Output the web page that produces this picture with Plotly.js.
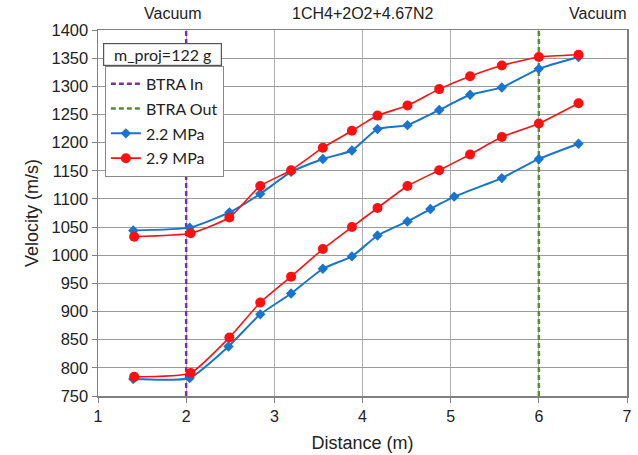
<!DOCTYPE html>
<html>
<head>
<meta charset="utf-8">
<script src="https://cdn.plot.ly/plotly-3.0.1.min.js"></script>
<style>html,body{margin:0;padding:0;background:#fff;}#chart{width:638px;height:455px;}</style>
</head>
<body>
<div id="chart"></div>
<script>
// 2.2 MPa, upper branch
const x22Upper = [1.40, 2.04, 2.49, 2.84, 3.19, 3.55, 3.88, 4.17, 4.51, 4.87, 5.22, 5.58, 6.00, 6.45];
const v22Upper = [1044, 1049, 1076, 1109, 1148, 1171, 1186, 1224, 1231, 1258, 1285, 1298, 1331, 1352];
// 2.2 MPa, lower branch
const x22Lower = [1.40, 2.04, 2.48, 2.84, 3.19, 3.55, 3.88, 4.17, 4.51, 4.77, 5.04, 5.58, 6.00, 6.45];
const v22Lower = [780, 782, 838, 895, 932, 976, 998, 1035, 1060, 1082, 1104, 1137, 1171, 1198];
// 2.9 MPa, upper branch
const x29Upper = [1.41, 2.05, 2.49, 2.84, 3.19, 3.55, 3.88, 4.17, 4.51, 4.87, 5.22, 5.58, 6.00, 6.45];
const v29Upper = [1033, 1039, 1067, 1123, 1151, 1191, 1221, 1248, 1266, 1295, 1318, 1337, 1352, 1356];
// 2.9 MPa, lower branch
const x29Lower = [1.41, 2.05, 2.49, 2.84, 3.19, 3.55, 3.88, 4.17, 4.51, 4.87, 5.22, 5.58, 6.00, 6.45];
const v29Lower = [784, 791, 854, 916, 962, 1011, 1050, 1084, 1123, 1151, 1179, 1210, 1234, 1270];
// BTRA markers
const btraInX = [2, 2];
const btraOutX = [6, 6];
const btraY = [750, 1400];
const xTicks = [1, 2, 3, 4, 5, 6, 7];
const yTicks = [750, 800, 850, 900, 950, 1000, 1050, 1100, 1150, 1200, 1250, 1300, 1350, 1400];

const blue = '#1874cd';
const red = '#ff1010';
const traces = [
  {x: btraInX, y: btraY, mode: 'lines', name: 'BTRA In',
   line: {color: '#7a2fb0', width: 2.5, dash: '5px,3px'}},
  {x: btraOutX, y: btraY, mode: 'lines', name: 'BTRA Out',
   line: {color: '#5b8c34', width: 2.5, dash: '5px,3px'}},
  {x: x22Upper, y: v22Upper, mode: 'lines+markers', name: '2.2 MPa', legendgroup: 'a',
   line: {color: blue, width: 2, shape: 'spline', smoothing: 0.5},
   marker: {symbol: 'diamond', size: 8, color: blue}},
  {x: x22Lower, y: v22Lower, mode: 'lines+markers', name: '2.2 MPa', legendgroup: 'a', showlegend: false,
   line: {color: blue, width: 2, shape: 'spline', smoothing: 0.5},
   marker: {symbol: 'diamond', size: 8, color: blue}},
  {x: x29Upper, y: v29Upper, mode: 'lines+markers', name: '2.9 MPa', legendgroup: 'b',
   line: {color: red, width: 1.6, shape: 'spline', smoothing: 0.5},
   marker: {symbol: 'circle', size: 10, color: red}},
  {x: x29Lower, y: v29Lower, mode: 'lines+markers', name: '2.9 MPa', legendgroup: 'b', showlegend: false,
   line: {color: red, width: 1.6, shape: 'spline', smoothing: 0.5},
   marker: {symbol: 'circle', size: 10, color: red}}
];

const layout = {
  width: 638, height: 455,
  margin: {l: 98, r: 11, t: 30, b: 59},
  paper_bgcolor: '#fff', plot_bgcolor: '#fff',
  font: {family: 'Liberation Sans, Arial, sans-serif', size: 16, color: '#222'},
  showlegend: true,
  legend: {x: 0.013, y: 0.902, xanchor: 'left', yanchor: 'top',
    bordercolor: '#888', borderwidth: 1, bgcolor: '#fff',
    font: {family: 'Lato, sans-serif', size: 16, color: '#222'},
    tracegroupgap: 1, itemwidth: 30},
  xaxis: {range: [1, 7], tickvals: xTicks, ticks: 'outside', ticklen: 5, tickcolor: '#808080',
    showline: true, linecolor: '#808080', linewidth: 1.5, mirror: true,
    showgrid: true, gridcolor: '#b0b0b0', gridwidth: 1, zeroline: false,
    tickfont: {size: 16},
    title: {text: 'Distance (m)', font: {size: 18}, standoff: 12}},
  yaxis: {range: [750, 1400], tickvals: yTicks, ticks: 'outside', ticklen: 5, tickcolor: '#808080',
    showline: true, linecolor: '#808080', linewidth: 1.5, mirror: true,
    showgrid: true, gridcolor: '#9a9a9a', gridwidth: 1, zeroline: false,
    tickfont: {size: 16.5},
    title: {text: 'Velocity (m/s)', font: {size: 18}, standoff: 8}},
  annotations: [
    {xref: 'x', yref: 'paper', x: 1.85, y: 1.044, yanchor: 'middle', text: 'Vacuum', showarrow: false, font: {size: 16}},
    {xref: 'x', yref: 'paper', x: 4.0, y: 1.044, yanchor: 'middle', text: '1CH4+2O2+4.67N2', showarrow: false, font: {size: 16}},
    {xref: 'x', yref: 'paper', x: 6.67, y: 1.044, yanchor: 'middle', text: 'Vacuum', showarrow: false, font: {size: 16}},
    {xref: 'paper', yref: 'paper', x: 0.0095, y: 0.932, xanchor: 'left', yanchor: 'middle', text: 'm_proj=122 g', showarrow: false,
     font: {family: 'Lato, sans-serif', size: 16, color: '#222'}, bordercolor: '#555', borderwidth: 1.2,
     borderpad: 1, bgcolor: '#fff', width: 115}
  ]
};
Plotly.newPlot('chart', traces, layout, {displayModeBar: false, staticPlot: true});
</script>
</body>
</html>
